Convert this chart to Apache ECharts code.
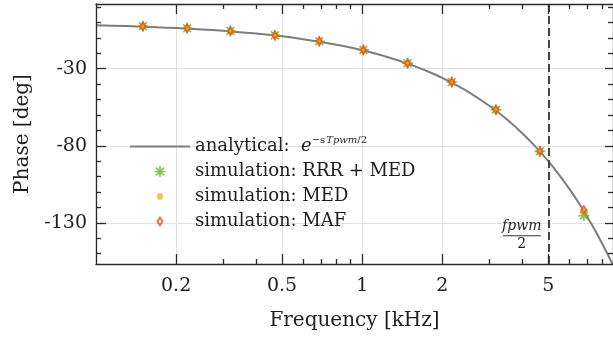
<!DOCTYPE html>
<html><head><meta charset="utf-8">
<script src="https://cdn.jsdelivr.net/npm/echarts@6/dist/echarts.min.js"></script>
<style>html,body{margin:0;padding:0;background:#fff}#c{width:613px;height:339px}</style>
</head><body><div id="c"></div>
<script>
// ---- data ----
const freqSim = [0.15, 0.22, 0.32, 0.47, 0.69, 1.01, 1.48, 2.17, 3.18, 4.65, 6.8];
const phaseRRRMED = [-2.4, -3.8, -5.5, -8.3, -12.2, -17.8, -26.4, -38.6, -56.6, -83.6, -125.3];
const phaseMED    = [-2.4, -3.8, -5.5, -8.3, -12.2, -17.8, -26.4, -38.6, -56.6, -83.6, -122.4];
const phaseMAF    = [-2.4, -3.8, -5.5, -8.3, -12.2, -17.8, -26.4, -38.6, -56.6, -83.6, -121.6];
const freqAnalytical  = [0.1, 0.13, 0.17, 0.2, 0.25, 0.3, 0.4, 0.5, 0.6, 0.7, 0.85, 1, 1.25, 1.5, 1.75, 2, 2.5, 3, 3.5, 4, 4.5, 5, 5.5, 6, 6.5, 7, 7.5, 8, 8.4, 8.75];
const phaseAnalytical = [-1.8, -2.3, -3.1, -3.6, -4.5, -5.4, -7.2, -9, -10.8, -12.6, -15.3, -18, -22.5, -27, -31.5, -36, -45, -54, -63, -72, -81, -90, -99, -108, -117, -126, -135, -144, -151.2, -157.5];
const xMajorTicks = [0.2, 0.5, 1, 2, 5];
const xMinorTicks = [0.3, 0.4, 0.6, 0.7, 0.8, 0.9, 3, 4, 6, 7, 8];
const yMajorTicks = [-130, -80, -30];
const yMinorTicks = [-150, -140, -120, -110, -100, -90, -70, -60, -50, -40, -20, -10, 0, 10];
const fHalfPwm = 5;
const xRange = [0.1, 8.75];
const yRange = [-156.7, 12];

const zip = (xs, ys) => xs.map((x, i) => [x, ys[i]]);
const FONT = 'DejaVu Serif';
const TXT = '#1e1e1e';
const AX = {color: '#2a2a2a', width: 1.3};

const asteriskPath = 'path://M8.5 0H11.5V20H8.5Z M0 8.5H20V11.5H0Z M3.91 1.79L18.21 16.09L16.09 18.21L1.79 3.91Z M18.21 3.91L3.91 18.21L1.79 16.09L16.09 1.79Z';
const dotPath = 'path://M4.3 10A5.7 5.7 0 1 0 15.7 10A5.7 5.7 0 1 0 4.3 10Z M0 0h0.001v0.001Z M20 20h-0.001v-0.001Z';
const diamondPath = 'path://M10 0L17 10L10 20L3 10Z M10 6.3L7.4 10L10 13.7L12.6 10Z';
const linePath = 'path://M0 0H60V2H0Z';

function xAx(pos, ticks, len, main) {
  const bottomMain = main && pos === 'bottom';
  return {
    type: 'log', logBase: 10, min: xRange[0], max: xRange[1], position: pos, z: 20,
    axisLine: {show: main, onZero: false, lineStyle: AX},
    axisTick: {show: true, inside: true, length: len, customValues: ticks, lineStyle: AX},
    axisLabel: bottomMain ? {show: true, customValues: xMajorTicks, margin: 13, fontFamily: FONT, fontSize: 19, color: TXT, formatter: v => String(v)} : {show: false},
    splitLine: {show: false}, minorTick: {show: false}, minorSplitLine: {show: false},
    name: bottomMain ? 'Frequency [kHz]' : '',
    nameLocation: 'middle', nameGap: 47,
    nameTextStyle: {fontFamily: FONT, fontSize: 20, color: TXT}
  };
}
function yAx(pos, ticks, len, main) {
  const leftMain = main && pos === 'left';
  return {
    type: 'value', min: yRange[0], max: yRange[1], position: pos, z: 20,
    axisLine: {show: main, onZero: false, lineStyle: AX},
    axisTick: {show: true, inside: true, length: len, customValues: ticks, lineStyle: AX},
    axisLabel: leftMain ? {show: true, customValues: yMajorTicks, margin: 9, fontFamily: FONT, fontSize: 19, color: TXT} : {show: false},
    splitLine: {show: false},
    name: leftMain ? 'Phase [deg]' : '',
    nameLocation: 'middle', nameGap: 63,
    nameTextStyle: {fontFamily: FONT, fontSize: 20, color: TXT}
  };
}

const chart = echarts.init(document.getElementById('c'), null, {renderer: 'canvas'});
chart.setOption({
  animation: false,
  backgroundColor: '#fff',
  grid: {left: 96, right: 0, top: 4, bottom: 75, containLabel: false},
  xAxis: [xAx('bottom', xMajorTicks, 10, true), xAx('bottom', xMinorTicks, 5, false), xAx('top', xMajorTicks, 10, true), xAx('top', xMinorTicks, 5, false)],
  yAxis: [yAx('left', yMajorTicks, 10, true), yAx('left', yMinorTicks, 5, false), yAx('right', yMajorTicks, 8, true), yAx('right', yMinorTicks, 5, false)],
  legend: {
    orient: 'vertical', left: 130, top: 135, padding: 0, itemWidth: 60, itemHeight: 11, itemGap: 7,
    selectedMode: false,
    data: [
      {name: 'analytical', icon: linePath},
      {name: 'simulation: RRR + MED', icon: asteriskPath},
      {name: 'simulation: MED', icon: dotPath},
      {name: 'simulation: MAF', icon: diamondPath}
    ],
    formatter: function (name) {
      if (name === 'analytical') return '{t|analytical:  }{e|e}{s|−s}{si|Tpwm}{s|/2}';
      return '{t|' + name + '}';
    },
    textStyle: {
      fontFamily: FONT, fontSize: 18, color: TXT,
      rich: {
        t: {fontFamily: FONT, fontSize: 18, color: TXT},
        e: {fontFamily: FONT, fontStyle: 'italic', fontSize: 18, color: TXT},
        s: {fontFamily: FONT, fontSize: 10, color: TXT, padding: [0, 0, 13, 0]},
        si: {fontFamily: FONT, fontStyle: 'italic', fontSize: 10, color: TXT, padding: [0, 0, 13, 1]}
      }
    }
  },
  series: [
    {
      type: 'line', name: 'gridlines', data: zip(freqAnalytical, phaseAnalytical), symbol: 'none',
      lineStyle: {opacity: 0}, silent: true, z: 1, legendHoverLink: false,
      markLine: {
        silent: true, z: 1, symbol: ['none', 'none'], label: {show: false}, animation: false,
        lineStyle: {color: '#e2e2e2', width: 1, type: 'solid'},
        emphasis: {disabled: true},
        data: xMajorTicks.map(v => ({xAxis: v})).concat(yMajorTicks.map(v => ({yAxis: v})))
      }
    },
    {
      type: 'line', name: 'analytical', data: zip(freqAnalytical, phaseAnalytical), symbol: 'none', showSymbol: false,
      smooth: 0.25, lineStyle: {color: '#7d7d7d', width: 2}, itemStyle: {color: '#7d7d7d'}, z: 5, silent: true,
      markLine: {
        silent: true, z: 6, symbol: ['none', 'none'], label: {show: false}, animation: false,
        lineStyle: {color: '#444444', width: 2, type: [8, 4]},
        emphasis: {disabled: true},
        data: [{xAxis: fHalfPwm}]
      },
      markPoint: {
        silent: true, z: 7, symbol: 'circle', symbolSize: 1, itemStyle: {color: 'rgba(0,0,0,0)'},
        label: {
          show: true, position: 'left', distance: 7,
          formatter: '{n|fpwm}\n{bar|}\n{d|2}',
          rich: {
            n: {fontFamily: FONT, fontStyle: 'italic', fontSize: 14, width: 38, align: 'center', lineHeight: 15, color: TXT},
            bar: {width: 38, height: 1, lineHeight: 3, backgroundColor: '#333'},
            d: {fontFamily: FONT, fontSize: 14, width: 38, align: 'center', lineHeight: 15, color: TXT}
          }
        },
        data: [{coord: [fHalfPwm, -138.4]}]
      }
    },
    {
      type: 'scatter', name: 'simulation: RRR + MED', data: zip(freqSim, phaseRRRMED),
      symbol: asteriskPath, symbolSize: 11, symbolKeepAspect: true, itemStyle: {color: '#6fb02c'}, z: 10, silent: true
    },
    {
      type: 'scatter', name: 'simulation: MED', data: zip(freqSim, phaseMED),
      symbol: dotPath, symbolSize: 11, symbolKeepAspect: true, itemStyle: {color: '#f1b31c'}, z: 11, silent: true
    },
    {
      type: 'scatter', name: 'simulation: MAF', data: zip(freqSim, phaseMAF),
      symbol: diamondPath, symbolSize: 11, symbolKeepAspect: true, itemStyle: {color: '#e2531d'}, z: 12, silent: true
    }
  ]
});
</script>
</body></html>
